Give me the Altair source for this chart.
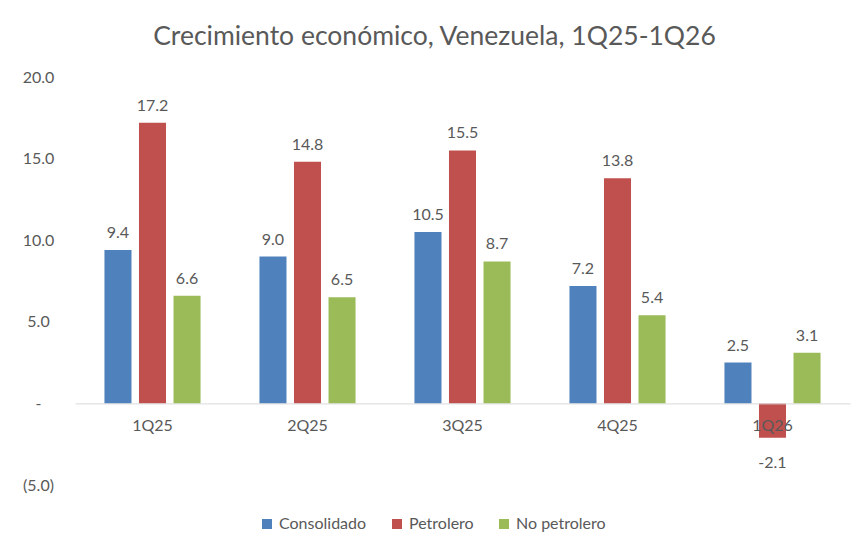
import altair as alt
import pandas as pd

quarters = ["1Q25", "2Q25", "3Q25", "4Q25", "1Q26"]
series = ["Consolidado", "Petrolero", "No petrolero"]
consolidado = [9.4, 9.0, 10.5, 7.2, 2.5]
petrolero = [17.2, 14.8, 15.5, 13.8, -2.1]
no_petrolero = [6.6, 6.5, 8.7, 5.4, 3.1]
colors = ["#4F81BD", "#C0504D", "#9BBB59"]

rows = []
for i, q in enumerate(quarters):
    for s, vals in zip(series, [consolidado, petrolero, no_petrolero]):
        rows.append({"q": q, "s": s, "v": vals[i]})
df = pd.DataFrame(rows)

FONT = "Lato"
TXT = "#595959"

x = alt.X("q:N", sort=quarters, title=None,
          scale=alt.Scale(paddingInner=0.38, paddingOuter=0.19),
          axis=alt.Axis(orient="bottom", offset=-81.6, labelAngle=0, ticks=False, tickSize=0,
                        domainColor="#D9D9D9", domainWidth=1, labelPadding=14,
                        labelFontSize=16, labelColor=TXT, labelFont=FONT, zindex=1))
xo = alt.XOffset("s:N", sort=series, scale=alt.Scale(paddingInner=0.217, paddingOuter=0))
y = alt.Y("v:Q", title=None,
          scale=alt.Scale(domain=[-5, 20], nice=False, zero=False),
          axis=alt.Axis(values=[-5, 0, 5, 10, 15, 20], grid=False, domain=False, ticks=False,
                        tickSize=0, labelAlign="center", labelPadding=37,
                        labelFontSize=16, labelColor=TXT, labelFont=FONT,
                        labelExpr="datum.value == 0 ? '-' : (datum.value < 0 ? '(' + format(-datum.value, '.1f') + ')' : format(datum.value, '.1f'))"))

color = alt.Color("s:N", sort=series, scale=alt.Scale(domain=series, range=colors),
                  legend=alt.Legend(title=None, orient="none", direction="horizontal",
                                    legendX=184, legendY=439, symbolType="square",
                                    symbolSize=100, symbolStrokeWidth=0, labelFontSize=16,
                                    labelColor=TXT, labelFont=FONT, columnPadding=22,
                                    labelOffset=4))

base = alt.Chart(df).transform_calculate(
    lbl="datum.v < 0 ? '-' + format(-datum.v, '.1f') : format(datum.v, '.1f')"
)
bars = base.mark_bar().encode(x=x, xOffset=xo, y=y, color=color)
pos = base.transform_filter("datum.v >= 0").mark_text(
    dy=-12, baseline="alphabetic", fontSize=16, color=TXT, font=FONT
).encode(x=x, xOffset=xo, y=y, text="lbl:N")
neg = base.transform_filter("datum.v < 0").mark_text(
    dy=30, baseline="alphabetic", fontSize=16, color=TXT, font=FONT
).encode(x=x, xOffset=xo, y=y, text="lbl:N")

chart = alt.layer(bars, pos, neg).properties(
    width=775, height=408,
    background="white",
    autosize=alt.AutoSizeParams(type="none"),
    padding={"left": 67, "top": 69, "right": 8, "bottom": 60},
    title=alt.Title("Crecimiento económico, Venezuela, 1Q25-1Q26", fontSize=26.5,
                    font=FONT, color=TXT, fontWeight="normal", anchor="middle",
                    dx=-28, offset=19),
).configure_view(strokeWidth=0, stroke="transparent")

chart.save("out.html", embed_options={"renderer": "svg", "actions": False})
